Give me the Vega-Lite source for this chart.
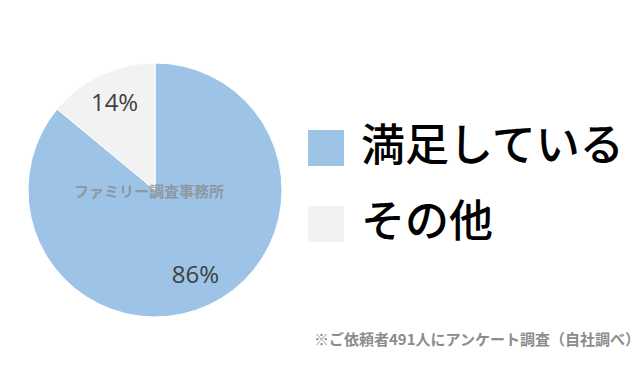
{
  "$schema": "https://vega.github.io/schema/vega-lite/v6.json",
  "width": 310,
  "height": 380,
  "autosize": "none",
  "padding": {"left": 0, "top": 0, "right": 330, "bottom": 0},
  "background": "white",
  "view": {"stroke": null},
  "title": {
    "text": "※ご依頼者491人にアンケート調査（自社調べ）",
    "orient": "bottom",
    "anchor": "start",
    "frame": "group",
    "dx": 314,
    "dy": -40,
    "offset": 0,
    "baseline": "middle",
    "font": "Noto Sans CJK JP",
    "fontSize": 15,
    "fontWeight": "bold",
    "color": "#8c8c8c"
  },
  "data": {
    "values": [
      {"category": "満足している", "value": 86, "label": "86%", "rank": 1},
      {"category": "その他", "value": 14, "label": "14%", "rank": 2}
    ]
  },
  "encoding": {
    "theta": {"field": "value", "type": "quantitative", "stack": true},
    "order": {"field": "rank", "type": "quantitative", "sort": "ascending"}
  },
  "layer": [
    {
      "mark": {"type": "arc", "outerRadius": 127, "stroke": "white", "strokeWidth": 1},
      "encoding": {
        "color": {
          "field": "category",
          "type": "nominal",
          "scale": {"domain": ["満足している", "その他"], "range": ["#9DC3E6", "#F2F2F2"]},
          "legend": {
            "title": null,
            "orient": "none",
            "legendX": 304,
            "legendY": 126,
            "symbolType": "square",
            "symbolSize": 1296,
            "symbolStrokeWidth": 0,
            "symbolOpacity": 1,
            "labelFont": "Noto Sans CJK JP",
            "labelFontSize": 44,
            "labelFontWeight": 500,
            "labelColor": "#000000",
            "labelOffset": 13,
            "labelLimit": 400,
            "rowPadding": 32
          }
        }
      }
    },
    {
      "mark": {"type": "text", "radius": 95, "font": "Open Sans", "fontSize": 24, "color": "#404040"},
      "encoding": {"text": {"field": "label"}}
    },
    {
      "data": {"values": [{"wm": "ファミリー調査事務所"}]},
      "mark": {"type": "text", "font": "Noto Sans CJK JP", "fontSize": 15, "fontWeight": "bold", "color": "#8a8a8a", "opacity": 0.75, "dx": -6, "dy": 2},
      "encoding": {"text": {"field": "wm"}, "theta": null, "order": null}
    }
  ]
}
